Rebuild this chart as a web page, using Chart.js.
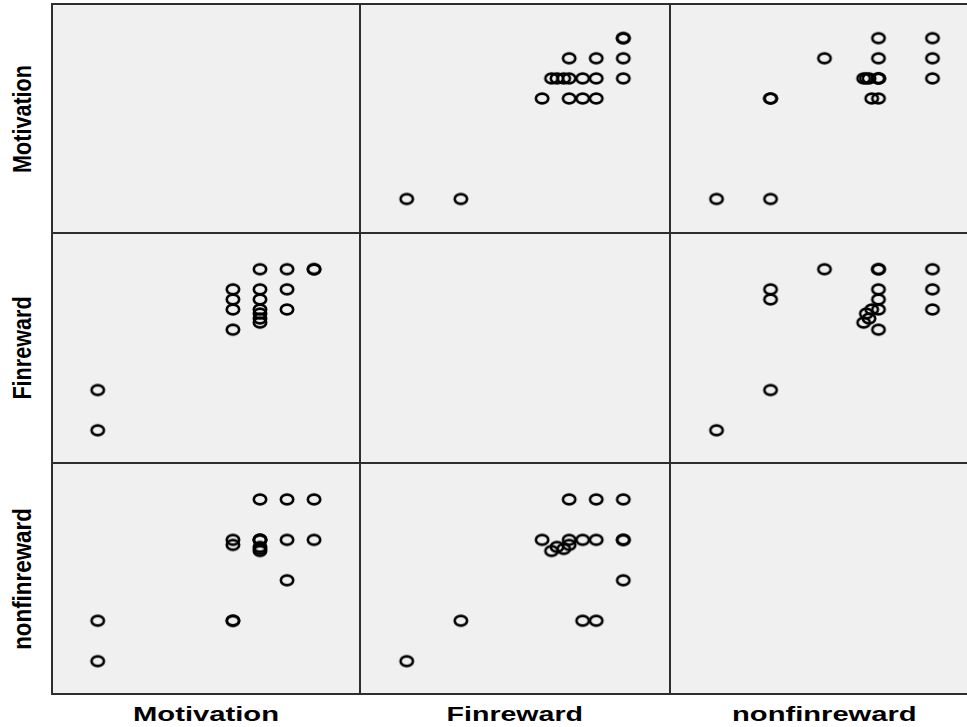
<!DOCTYPE html>
<html>
<head>
<meta charset="utf-8">
<script src="https://cdn.jsdelivr.net/npm/chart.js@4.4.1/dist/chart.umd.min.js"></script>
<style>
  body { margin: 0; background: #fff; width: 967px; height: 727px; overflow: hidden; position: relative; }
  .cell { position: absolute; background: #f0f0f0; }
  .cell canvas { display: block; }
  .line { position: absolute; background: #2e2e2e; }
  .lab { position: absolute; white-space: nowrap; font-weight: bold; color: #000; line-height: 1; transform-origin: center; }
</style>
</head>
<body>
<script>
// one entry per case
const VARS = ["Motivation", "Finreward", "nonfinreward"];
const motivation = [1.00, 1.00, 2.25, 2.25, 2.25, 2.25, 2.50, 2.50, 2.50, 2.50, 2.50, 2.50, 2.50, 2.75, 2.75, 2.75, 3.00, 3.00];
const finreward = [1.0, 1.8, 3.0, 3.4, 3.6, 3.8, 4.2, 3.8, 3.6, 3.4, 3.14, 3.22, 3.32, 3.4, 3.8, 4.2, 4.2, 4.2];
const nonfinreward = [1.0, 1.8, 3.4, 3.3, 1.8, 1.8, 3.4, 3.4, 3.4, 4.2, 3.18, 3.26, 3.22, 3.4, 4.2, 2.6, 4.2, 3.4];

// axis ranges for each variable (as x, as y)
const xMin = [0.577, 0.31, 0.31];
const xMax = [3.425, 4.89, 4.89];
const yMin = [0.577, 0.35, 0.35];
const yMax = [3.425, 4.92, 4.92];

const columns = [motivation, finreward, nonfinreward];

// panel layout (third column runs past the right edge, like the original)
const colX = [52, 360, 670];
const colW = [308, 310, 309];
const rowY = [4, 233, 463];
const rowH = [229, 230, 231];

// hollow ellipse marker
const ring = document.createElement("canvas");
ring.width = 18;
ring.height = 15;
let rc = ring.getContext("2d");
rc.strokeStyle = "#000";
rc.lineWidth = 2.6;
rc.beginPath();
rc.ellipse(9, 7.5, 6.2, 4.9, 0, 0, Math.PI * 2);
rc.stroke();

for (let r = 0; r < 3; r++) {
  for (let c = 0; c < 3; c++) {
    let cell = document.createElement("div");
    cell.className = "cell";
    cell.style.left = colX[c] + "px";
    cell.style.top = rowY[r] + "px";
    cell.style.width = colW[c] + "px";
    cell.style.height = rowH[r] + "px";
    document.body.appendChild(cell);
    if (r == c) continue;

    let cv = document.createElement("canvas");
    cv.width = colW[c];
    cv.height = rowH[r];
    cell.appendChild(cv);

    let pts = columns[c].map((v, i) => ({ x: v, y: columns[r][i] }));

    new Chart(cv, {
      type: "scatter",
      data: {
        datasets: [
          {
            data: pts,
            pointStyle: ring,
            pointRadius: 6,
            borderColor: "#000",
            backgroundColor: "rgba(0,0,0,0)",
          },
        ],
      },
      options: {
        responsive: false,
        animation: false,
        events: [],
        layout: { padding: 0, autoPadding: false },
        plugins: { legend: { display: false }, tooltip: { enabled: false } },
        scales: {
          x: { type: "linear", display: false, min: xMin[c], max: xMax[c] },
          y: { type: "linear", display: false, min: yMin[r], max: yMax[r] },
        },
      },
    });
  }
}

// frame and dividers
function line(x, y, w, h) {
  let d = document.createElement("div");
  d.className = "line";
  d.style.left = x + "px";
  d.style.top = y + "px";
  d.style.width = w + "px";
  d.style.height = h + "px";
  document.body.appendChild(d);
}
line(51, 3, 930, 2);
line(51, 693, 930, 2);
line(51, 3, 2, 692);
line(359, 3, 2, 692);
line(669, 3, 2, 692);
line(51, 232, 930, 2);
line(51, 462, 930, 2);

// variable names, stretched to the lengths in the picture
function label(text, cx, cy, len, size, font, rotate) {
  let el = document.createElement("div");
  el.className = "lab";
  el.textContent = text;
  el.style.fontSize = size + "px";
  el.style.fontFamily = font;
  document.body.appendChild(el);
  let w = el.offsetWidth;
  let h = el.offsetHeight;
  el.style.left = cx - w / 2 + "px";
  el.style.top = cy - h / 2 + "px";
  el.style.transform = (rotate ? "rotate(-90deg) " : "") + "scaleX(" + len / w + ")";
}

const bottomLen = [146, 137, 185];
const sideLen = [108, 103, 142];
const narrow = '"Liberation Sans Narrow", "Arial Narrow", "Liberation Sans", sans-serif';
const plain = '"Liberation Sans", Arial, sans-serif';
for (let i = 0; i < 3; i++) {
  label(VARS[i], colX[i] + colW[i] / 2, 714, bottomLen[i], 20, plain, false);
  label(VARS[i], 22, rowY[i] + rowH[i] / 2, sideLen[i], 26, narrow, true);
}
</script>
</body>
</html>
